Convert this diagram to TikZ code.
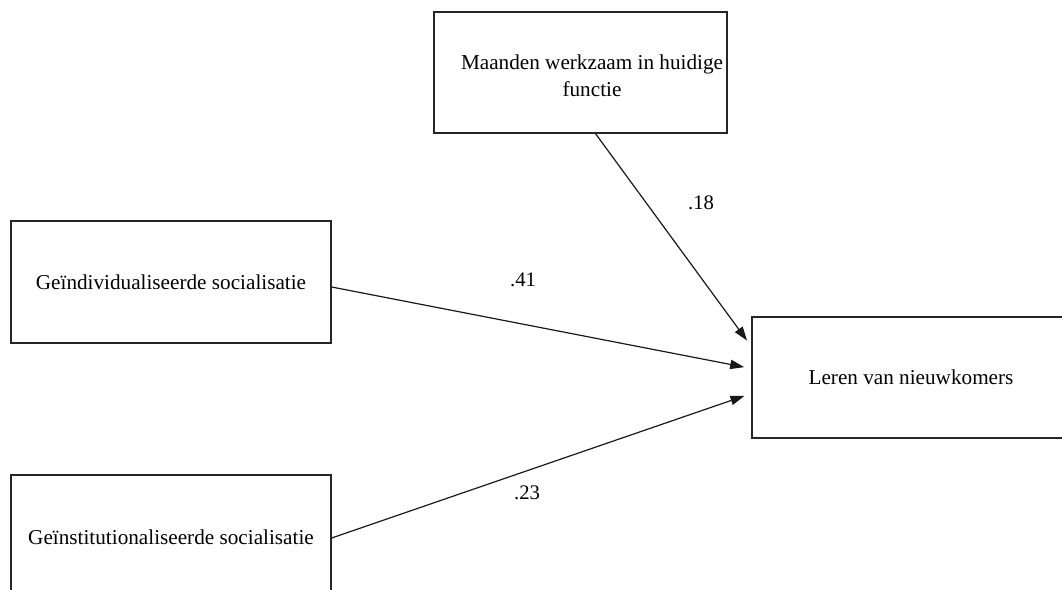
\documentclass[tikz,border=0pt]{standalone}
\usepackage{fontspec}
\setmainfont{Liberation Serif}
\usetikzlibrary{arrows.meta,calc}
\begin{document}
\begin{tikzpicture}[x=0.75pt,y=-0.75pt,
  box/.style={draw=black!85,line width=0.95pt,rectangle,inner sep=0pt,align=center,
    font=\fontsize{15.9}{20}\selectfont},
  txt/.style={inner sep=0pt,align=center,font=\fontsize{15.9}{20}\selectfont},
  lbl/.style={font=\fontsize{15.5}{18}\selectfont,inner sep=0pt},
  arr/.style={draw=black!90,line width=0.9pt,-{Triangle[length=10.5pt,width=7pt]},shorten >=5.5pt}]
\useasboundingbox (0,0) rectangle (1062,589);
\clip (0,0) rectangle (1062,589);
\node[box,minimum width=293*0.75pt,minimum height=121*0.75pt] (maand) at (580.5,72.5) {};
\node[txt] (maandtxt) at (592,76) {Maanden werkzaam in huidige\\functie};
\node[box,minimum width=320*0.75pt,minimum height=122*0.75pt] (indiv) at (171,282) {\raisebox{-2pt}{Geïndividualiseerde socialisatie}};
\node[box,minimum width=320*0.75pt,minimum height=124*0.75pt] (inst) at (171,537) {Geïnstitutionaliseerde socialisatie};
\node[box,minimum width=318*0.75pt,minimum height=121*0.75pt] (leren) at (911,377.5) {Leren van nieuwkomers};
\draw[arr] ($(maand.south)+(15,0)$) -- ($(leren.west)+(0,-31)$);
\draw[arr] ($(indiv.east)+(0,5)$) -- ($(leren.west)+(0,-9)$);
\draw[arr] ($(inst.east)+(0,1)$) -- ($(leren.west)+(0,16)$);
\node[lbl] (l18) at (701,203) {.18};
\node[lbl] (l41) at (523,280) {.41};
\node[lbl] (l23) at (527,493) {.23};
\end{tikzpicture}
\end{document}
